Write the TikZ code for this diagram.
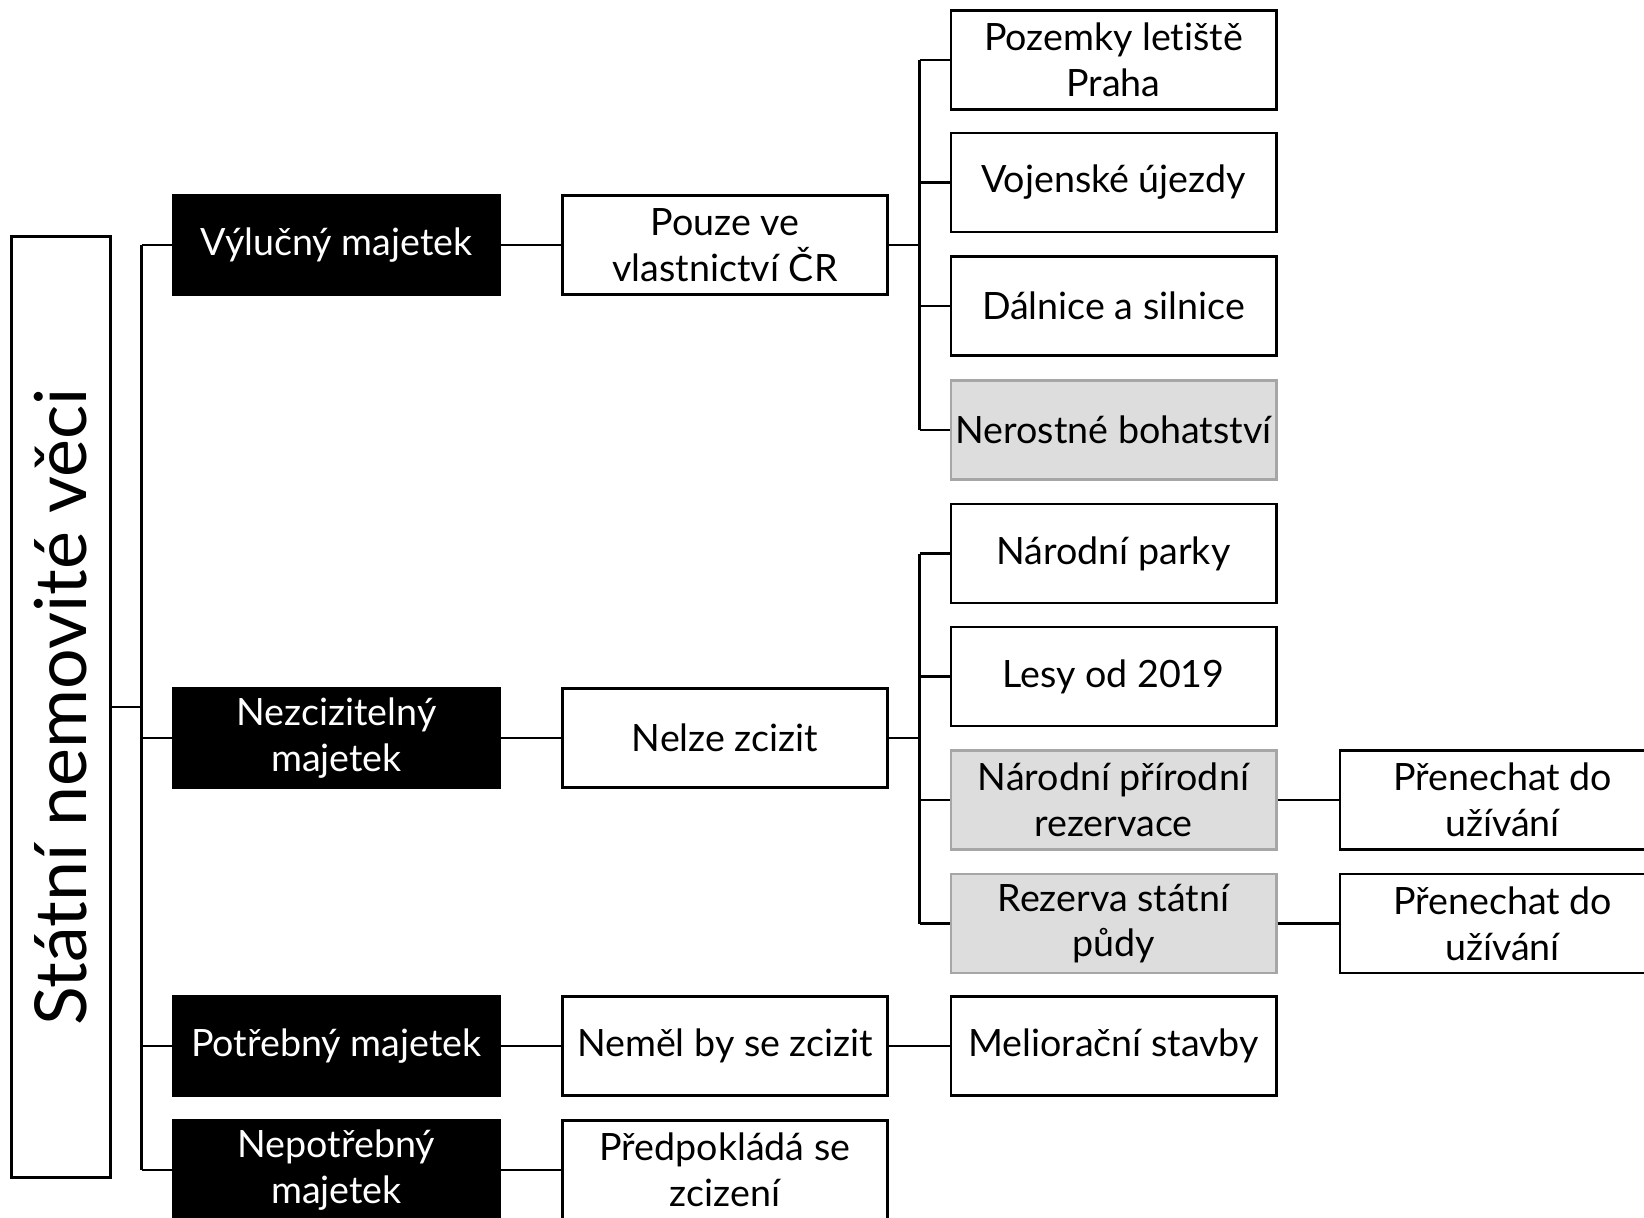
\documentclass[tikz,border=0pt]{standalone}
\usepackage{fontspec}
\setmainfont{Lato}[Ligatures=NoCommon]
\begin{document}
\begin{tikzpicture}[x=0.01cm,y=-0.01cm,
    box/.style={draw, line width=0.8pt, minimum width=3.25cm, minimum height=0.99cm,
      inner sep=0pt, align=center, font=\fontsize{10.7}{13}\selectfont},
    dark/.style={box, fill=black, text=white},
    grey/.style={box, fill=gray!27, draw=gray!70},
    link/.style={line width=0.7pt}]
  \useasboundingbox (0,0) rectangle (1644,1217);
  % root
  \node [draw, line width=0.8pt, rotate=90, minimum width=9.41cm, minimum height=0.99cm,
    font=\fontsize{20.4}{24}\selectfont] (root) at (61,707) {Státní nemovité věci};
  % kinds of property
  \node [dark] (vylucny) at (336.5,245) {Výlučný majetek};
  \node [dark] (nezciz) at (336.5,738) {Nezcizitelný\\majetek};
  \node [dark] (potreb) at (336.5,1046) {Potřebný majetek};
  \node [dark] (nepotreb) at (336.5,1170) {Nepotřebný\\majetek};
  % rules
  \node [box] (pouze) at (725,245) {Pouze ve\\vlastnictví ČR};
  \node [box] (nelze) at (725,738) {Nelze zcizit};
  \node [box] (nemel) at (725,1046) {Neměl by se zcizit};
  \node [box] (predp) at (725,1170) {Předpokládá se\\zcizení};
  % examples
  \node [box] (letiste) at (1113.5,60) {Pozemky letiště\\Praha};
  \node [box] (ujezdy) at (1113.5,182.5) {Vojenské újezdy};
  \node [box] (dalnice) at (1113.5,306) {Dálnice a silnice};
  \node [grey] (nerost) at (1113.5,430) {Nerostné bohatství};
  \node [box] (parky) at (1113.5,553.5) {Národní parky};
  \node [box] (lesy) at (1113.5,676.5) {Lesy od 2019};
  \node [grey] (rezervace) at (1113.5,800) {Národní přírodní\\rezervace};
  \node [grey] (puda) at (1113.5,923.5) {Rezerva státní\\půdy};
  \node [box] (meliorace) at (1113.5,1046) {Meliorační stavby};
  \node [box] (uziv1) at (1502.5,800) {Přenechat do\\užívání};
  \node [box] (uziv2) at (1502.5,923.5) {Přenechat do\\užívání};
  % connectors
  \coordinate (trunk) at (141.5,707);
  \draw [link] (root.south) -- (trunk);
  \draw [link] (trunk |- vylucny) -- (trunk |- nepotreb);
  \foreach \n in {vylucny,nezciz,potreb,nepotreb}
    \draw [link] (trunk |- \n) -- (\n.west);
  \draw [link] (vylucny) -- (pouze);
  \draw [link] (nezciz) -- (nelze);
  \draw [link] (potreb) -- (nemel);
  \draw [link] (nepotreb) -- (predp);
  \coordinate (forka) at (919.5,245);
  \draw [link] (pouze.east) -- (forka);
  \draw [link] (forka |- letiste) -- (forka |- nerost);
  \foreach \n in {letiste,ujezdy,dalnice,nerost}
    \draw [link] (forka |- \n) -- (\n.west);
  \coordinate (forkb) at (919.5,738);
  \draw [link] (nelze.east) -- (forkb);
  \draw [link] (forkb |- parky) -- (forkb |- puda);
  \foreach \n in {parky,lesy,rezervace,puda}
    \draw [link] (forkb |- \n) -- (\n.west);
  \draw [link] (nemel) -- (meliorace);
  \draw [link] (rezervace) -- (uziv1);
  \draw [link] (puda) -- (uziv2);
\end{tikzpicture}
\end{document}
